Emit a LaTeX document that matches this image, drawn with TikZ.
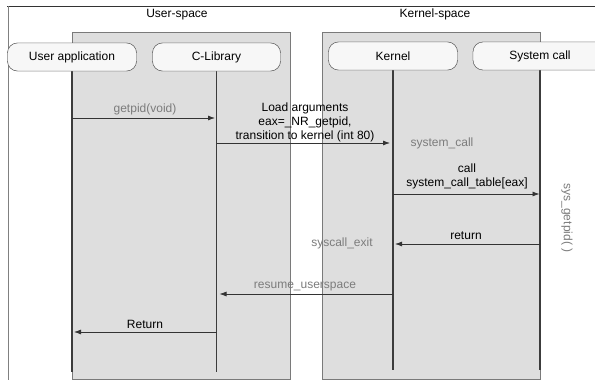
\documentclass[tikz,border=0pt]{standalone}
\usepackage{fontspec}
\setmainfont{Liberation Sans}
\usetikzlibrary{arrows.meta}
\definecolor{spacefill}{HTML}{DEDEDE}
\definecolor{spaceline}{HTML}{7A7A7A}
\definecolor{nodefill}{HTML}{F7F7F7}
\definecolor{lifeline}{HTML}{3C3C3C}
\definecolor{graytext}{HTML}{7C7C7C}
\tikzset{
  actor/.style={draw=black!65, fill=nodefill, rounded corners=10pt, minimum height=28pt,
    font=\fontsize{12}{14}\selectfont, inner sep=0pt},
  spacebox/.style={draw=spaceline, fill=spacefill, line width=0.8pt},
  life/.style={draw=lifeline, line width=1.1pt},
  msg/.style={draw=black!80, line width=0.8pt, -{Latex[length=7pt,width=5pt]}},
  lbl/.style={font=\fontsize{12}{14}\selectfont, align=center, inner sep=0pt},
  glbl/.style={lbl, text=graytext},
}
\begin{document}
\begin{tikzpicture}[x=1pt,y=-1pt]
\useasboundingbox (0,0) rectangle (595,380);
\fill[white] (0,0) rectangle (595,380);
% outer frame
\draw[black!80, line width=0.8pt] (7,6) -- (595,6);
\draw[gray, line width=1pt] (8,6) -- (8,380);
% space boxes
\draw[spacebox] (72,32) rectangle (290,379);
\draw[spacebox] (322,32) rectangle (540,379);
\node[lbl] (us) at (177,15) {User-space};
\node[lbl] (ks) at (435,14) {Kernel-space};
% actors
\node[actor, minimum width=129pt] (app) at (72,57) {User application};
\node[actor, minimum width=128pt] (clib) at (216.5,57) {C-Library};
\node[actor, minimum width=129pt] (kern) at (393,56) {Kernel};
\node[actor, minimum width=134pt] (sysc) at (540,56) {System call};
% lifeline ends
\coordinate (appEnd) at (72,372);
\coordinate (clibEnd) at (216.5,372);
\coordinate (kernEnd) at (393,370);
\coordinate (syscEnd) at (540,370);
\draw[life] (app.south) -- (appEnd);
\draw[life] (clib.south) -- (clibEnd);
\draw[life] (kern.south) -- (kernEnd);
\draw[life] (sysc.south) -- (syscEnd);
% redraw actors on top of lifelines
\node[actor, minimum width=129pt] at (app) {User application};
\node[actor, minimum width=128pt] at (clib) {C-Library};
\node[actor, minimum width=129pt] at (kern) {Kernel};
\node[actor, minimum width=134pt] at (sysc) {System call};
% message points
\coordinate (a1) at (72,118);   \coordinate (c1) at (216.5,118);
\coordinate (c2) at (216.5,143); \coordinate (k2) at (393,143);
\coordinate (k3) at (393,194);  \coordinate (s3) at (540,194);
\coordinate (s4) at (540,244);  \coordinate (k4) at (393,244);
\coordinate (k5) at (393,294);  \coordinate (c5) at (216.5,294);
\coordinate (c6) at (216.5,332); \coordinate (a6) at (72,332);
% messages
\draw[msg, shorten >=1.5pt] (a1) -- (c1);
\node[glbl] (l1) at (145,109) {getpid(void)};
\draw[msg, shorten >=3pt] (c2) -- (k2);
\node[lbl] (l2) at (305,122.5) {Load arguments\\eax=\_NR\_getpid,\\transition to kernel (int 80)};
\node[glbl] (sc) at (442,143) {system\_call};
\draw[msg, shorten >=0.5pt] (k3) -- (s3);
\node[lbl] (l3) at (467,176) {call\\system\_call\_table[eax]};
\draw[msg, shorten >=2pt] (s4) -- (k4);
\node[lbl] (l4) at (466,236) {return};
\node[glbl] (se) at (342,243) {syscall\_exit};
\draw[msg, shorten >=3pt] (k5) -- (c5);
\node[glbl] (l5) at (305,287) {resume\_userspace};
\draw[msg, shorten >=2pt] (c6) -- (a6);
\node[lbl] (l6) at (145,324) {Return};
\node[glbl, rotate=-90] (sg) at (567,218) {sys\_getpid( )};
\end{tikzpicture}
\end{document}
